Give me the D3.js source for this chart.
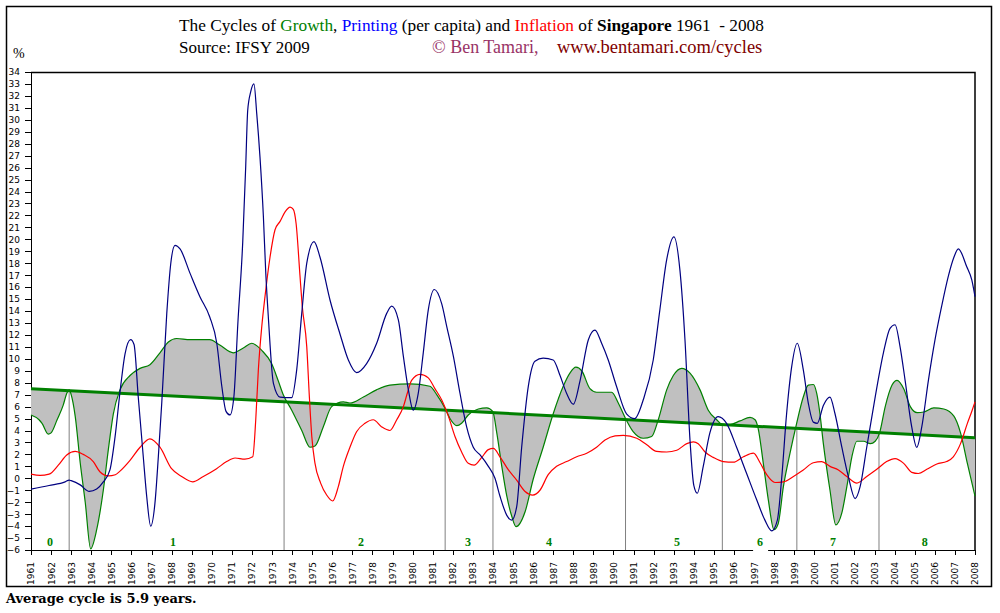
<!DOCTYPE html>
<html>
<head>
<meta charset="utf-8">
<script src="https://cdnjs.cloudflare.com/ajax/libs/d3/7.8.5/d3.min.js"></script>
<style>
    body { margin: 0; background: #fff; }
    svg { display: block; }
    .axis text { font-family: 'DejaVu Sans', sans-serif; font-size: 9px; fill: #000; }
    .axis path, .axis line { stroke: #000; shape-rendering: crispEdges; }
</style>
</head>
<body>
<svg width="1000" height="613"></svg>
<script>
// x axis years and y axis ticks (%)
const years = d3.range( 1961, 2009 );
const yTicks = d3.range( -6, 35 );

// growth (green)
const growthYears = [ 1961.0, 1961.4, 1961.55, 1961.86, 1962.0, 1962.3, 1962.6, 1962.78, 1962.9, 1963.0, 1963.2, 1963.45, 1963.7, 1963.97,
    1964.27, 1964.6, 1964.85, 1965.1, 1965.43, 1965.93, 1966.43, 1966.92, 1967.42, 1967.84, 1968.25, 1968.92, 1969.9, 1970.4,
    1971.07, 1971.57, 1971.99, 1972.49, 1972.98, 1973.3, 1973.56, 1973.98, 1974.48, 1974.89, 1975.14, 1975.55, 1975.97, 1976.55,
    1976.88, 1977.55, 1978.2, 1978.87, 1979.87, 1980.86, 1981.2, 1981.63, 1981.86, 1982.2, 1982.44, 1982.77, 1983.27, 1983.69,
    1983.99, 1984.19, 1984.44, 1984.69, 1984.94, 1985.15, 1985.6, 1986.0, 1986.5, 1987.0, 1987.5, 1987.83, 1988.13, 1988.42,
    1988.83, 1989.16, 1989.91, 1990.24, 1990.6, 1990.98, 1991.48, 1991.9, 1992.23, 1992.65, 1992.98, 1993.4, 1993.81, 1994.31,
    1994.72, 1995.14, 1995.42, 1995.8, 1996.3, 1996.8, 1997.05, 1997.2, 1997.46, 1997.71, 1997.99, 1998.2, 1998.46, 1998.79,
    1999.12, 1999.45, 1999.7, 1999.95, 2000.12, 2000.28, 2000.45, 2000.78, 2001.07, 2001.37, 2001.62, 2001.87, 2002.12, 2002.45,
    2002.79, 2003.03, 2003.25, 2003.53, 2003.87, 2004.12, 2004.45, 2004.78, 2005.12, 2005.45, 2005.95, 2006.45, 2006.95, 2007.28,
    2007.62, 2008.0 ];
const growthValues = [ 5.3, 4.9, 4.6, 3.7, 3.8, 4.9, 6.1, 7.1, 7.4, 7.0, 5.2, 1.3, -2.0, -5.9,
    -4.3, -1.0, 2.4, 5.4, 7.4, 8.6, 9.2, 9.5, 10.5, 11.4, 11.7, 11.6, 11.6, 11.15,
    10.5, 10.9, 11.3, 10.7, 9.6, 8.2, 7.0, 5.7, 4.0, 2.6, 2.7, 4.3, 6.0, 6.4,
    6.3, 6.8, 7.4, 7.8, 7.9, 7.7, 7.0, 5.8, 5.0, 4.4, 4.6, 5.3, 5.8, 5.9,
    5.6, 3.8, 1.0, -1.5, -3.2, -4.05, -2.8, -0.1, 2.6, 5.4, 7.7, 8.8, 9.3, 9.0,
    7.5, 7.2, 7.2, 6.3, 5.0, 3.9, 3.35, 3.5, 4.9, 7.4, 8.6, 9.2, 8.8, 7.4,
    5.7, 4.9, 4.5, 4.5, 4.8, 5.1, 4.9, 4.2, 1.25, -1.8, -4.3, -3.8, -0.7, 2.1,
    4.6, 6.8, 7.8, 7.85, 7.1, 5.4, 2.9, -1.0, -3.9, -2.9, -0.7, 1.8, 3.1, 3.1,
    2.9, 3.1, 3.8, 6.0, 7.8, 8.2, 7.5, 6.0, 5.5, 5.55, 5.9, 5.8, 5.2, 3.8,
    1.25, -1.5 ];

// printing per capita (blue)
const printingYears = [ 1961.0, 1961.9, 1962.7, 1962.9, 1963.0, 1963.45, 1963.9, 1964.27, 1964.6, 1964.93, 1965.18, 1965.43, 1965.68,
    1965.96, 1966.13, 1966.34, 1966.59, 1966.76, 1966.96, 1967.17, 1967.34, 1967.51, 1967.76, 1967.96, 1968.17, 1968.42, 1968.92,
    1969.41, 1969.9, 1970.25, 1970.5, 1970.71, 1970.91, 1971.1, 1971.3, 1971.54, 1971.69, 1971.79, 1971.94, 1972.1, 1972.24,
    1972.4, 1972.57, 1972.69, 1972.82, 1973.07, 1973.4, 1973.98, 1974.23, 1974.48, 1974.73, 1975.09, 1975.39, 1975.89, 1976.38,
    1976.8, 1977.21, 1977.71, 1978.21, 1978.71, 1978.96, 1979.29, 1979.54, 1979.79, 1980.03, 1980.28, 1980.53, 1980.78, 1981.08,
    1981.45, 1981.7, 1982.03, 1982.36, 1982.69, 1983.02, 1983.36, 1983.77, 1984.1, 1984.35, 1984.69, 1984.93, 1985.18, 1985.43,
    1985.76, 1986.09, 1986.5, 1987.0, 1987.34, 1987.67, 1988.0, 1988.34, 1988.75, 1989.08, 1989.41, 1989.74, 1990.15, 1990.65,
    1991.06, 1991.48, 1991.98, 1992.31, 1992.65, 1993.01, 1993.31, 1993.56, 1993.81, 1994.0, 1994.17, 1994.47, 1994.8, 1995.21,
    1995.63, 1996.13, 1996.63, 1997.13, 1997.54, 1997.88, 1998.16, 1998.37, 1998.62, 1998.87, 1999.15, 1999.45, 1999.7, 1999.95,
    2000.15, 2000.45, 2000.78, 2001.03, 2001.37, 2001.7, 2002.03, 2002.28, 2002.61, 2003.03, 2003.44, 2003.77, 2004.02, 2004.27,
    2004.52, 2004.85, 2005.1, 2005.35, 2005.68, 2006.01, 2006.34, 2006.67, 2006.95, 2007.17, 2007.59, 2007.84, 2008.0 ];
const printingValues = [ -0.9, -0.6, -0.3, -0.15, -0.2, -0.55, -1.1, -0.9, -0.3, 0.7, 3.4, 7.2, 10.4,
    11.6, 11.2, 6.8, 1.8, -1.5, -4.0, -2.1, 1.8, 6.3, 13.8, 18.0, 19.5, 19.2, 17.15,
    15.2, 13.5, 11.3, 7.7, 5.6, 5.3, 6.8, 13.0, 19.7, 26.1, 30.8, 32.35, 33.0, 30.5,
    26.9, 21.9, 17.15, 13.4, 7.95, 6.8, 6.75, 9.1, 13.8, 18.0, 19.8, 18.5, 14.9, 12.1,
    9.9, 8.85, 9.6, 11.3, 13.8, 14.4, 13.25, 10.2, 7.4, 5.7, 7.1, 10.5, 14.1, 15.8,
    14.6, 12.7, 10.2, 7.1, 4.3, 2.6, 1.95, 1.0, 0.0, -1.5, -3.1, -3.5, -2.4, 2.6,
    7.7, 9.8, 10.05, 9.9, 8.6, 7.1, 6.2, 8.2, 11.6, 12.4, 11.3, 9.9, 7.7, 5.4,
    5.0, 6.55, 9.9, 14.1, 18.3, 20.2, 17.4, 11.6, 3.2, -0.6, -1.25, 1.0, 3.8, 5.16,
    4.6, 2.6, 0.4, -1.8, -3.5, -4.4, -3.5, -0.1, 5.4, 9.3, 11.3, 9.1, 6.3, 4.7,
    4.6, 6.1, 6.8, 5.4, 2.6, 0.1, -1.7, -0.7, 2.6, 6.8, 10.5, 12.55, 12.85, 11.0,
    8.2, 4.3, 2.6, 4.3, 8.2, 11.6, 14.4, 16.9, 18.5, 19.2, 17.7, 16.6, 15.2 ];

// inflation (red)
const inflationYears = [ 1961.0, 1961.45, 1961.9, 1962.36, 1962.78, 1963.2, 1963.6, 1964.1, 1964.43, 1964.85, 1965.2, 1965.43, 1965.93,
    1966.43, 1966.92, 1967.42, 1968.0, 1968.5, 1969.05, 1969.58, 1970.24, 1970.74, 1971.16, 1971.65, 1972.04, 1972.19, 1972.32,
    1972.49, 1972.65, 1972.9, 1973.15, 1973.4, 1973.65, 1973.9, 1974.06, 1974.2, 1974.39, 1974.5, 1974.73, 1974.86, 1974.98,
    1975.14, 1975.42, 1975.72, 1976.02, 1976.3, 1976.55, 1976.88, 1977.21, 1977.63, 1978.04, 1978.46, 1978.87, 1979.21, 1979.54,
    1979.75, 1979.95, 1980.37, 1980.78, 1981.11, 1981.45, 1981.78, 1982.11, 1982.44, 1982.77, 1983.06, 1983.44, 1983.77, 1984.02,
    1984.35, 1984.77, 1985.18, 1985.6, 1985.98, 1986.34, 1986.75, 1987.17, 1987.67, 1988.17, 1988.67, 1989.16, 1989.58, 1990.08,
    1990.49, 1991.16, 1991.66, 1992.15, 1992.65, 1993.15, 1993.65, 1993.98, 1994.22, 1994.56, 1994.97, 1995.47, 1995.97, 1996.47,
    1996.97, 1997.3, 1997.63, 1998.04, 1998.46, 1998.96, 1999.45, 1999.95, 2000.37, 2000.78, 2001.2, 2001.62, 2002.12, 2002.61,
    2003.11, 2003.6, 2004.02, 2004.45, 2004.85, 2005.18, 2005.6, 2006.1, 2006.59, 2006.92, 2007.28, 2007.62, 2007.86, 2008.0 ];
const inflationValues = [ 0.35, 0.25, 0.35, 1.1, 1.95, 2.25, 2.0, 1.4, 0.55, 0.2, 0.3, 0.6, 1.5,
    2.6, 3.3, 2.6, 0.8, 0.15, -0.3, 0.15, 0.8, 1.4, 1.7, 1.6, 1.8, 4.9, 9.1,
    12.7, 15.2, 18.5, 20.8, 21.5, 22.3, 22.7, 22.5, 21.3, 17.0, 14.5, 11.0, 6.8, 3.5,
    1.25, -0.4, -1.4, -1.9, -0.7, 1.0, 2.6, 3.9, 4.6, 4.9, 4.3, 4.0, 4.9, 6.0,
    7.2, 8.2, 8.7, 8.4, 7.5, 6.55, 5.2, 3.5, 2.2, 1.25, 1.1, 1.75, 2.4, 2.5,
    1.8, 0.7, -0.15, -1.1, -1.4, -1.0, 0.3, 1.0, 1.4, 1.8, 2.1, 2.6, 3.2, 3.55,
    3.6, 3.35, 2.8, 2.25, 2.2, 2.35, 2.9, 3.05, 2.9, 2.2, 1.75, 1.4, 1.35, 1.8,
    2.1, 1.3, 0.3, -0.35, -0.3, 0.15, 0.7, 1.3, 1.4, 1.0, 0.7, 0.15, -0.4, 0.15,
    0.75, 1.4, 1.65, 1.25, 0.5, 0.4, 0.75, 1.2, 1.4, 1.8, 2.9, 4.6, 5.7, 6.4 ];

// growth trend line and cycle borders
const trendYears = [ 1961, 2008 ];
const trendValues = [ 7.5, 3.4 ];
const cycleBreaks = [ 1962.9, 1973.6, 1981.62, 1984.0, 1990.6, 1995.42, 1999.13, 2003.22 ];
const cycleLabels = [ '0', '1', '2', '3', '4', '5', '6', '7', '8' ];
const cycleLabelYears = [ 1961.95, 1968.07, 1977.43, 1982.76, 1986.79, 1993.16, 1997.3, 2000.93, 2005.5 ];
const cycleLabelBoxed = [ false, false, false, false, false, false, true, false, false ];

const averageCycle = 5.9;

function toPoints( xs, vs ) {
    return xs.map( ( year, i ) => ( { year, value: vs[ i ] } ) );
}

function initializePlot( config ) {
    const svg = d3.select( 'svg' );

    // outer frame
    svg.append( 'rect' )
        .attr( 'x', 6.5 ).attr( 'y', 6.5 )
        .attr( 'width', 985 ).attr( 'height', 580 )
        .attr( 'fill', 'none' )
        .attr( 'stroke', '#000' )
        .attr( 'stroke-width', 1.5 );

    const plotGroup = svg.append( 'g' )
        .attr( 'transform', `translate(${config.margin.left},${config.margin.top})` );

    return { svg, plotGroup };
}

function initializeAxes( { plotGroup }, config ) {
    const innerWidth = config.width - config.margin.left - config.margin.right;
    const innerHeight = config.height - config.margin.top - config.margin.bottom;

    const xScale = d3.scaleLinear()
        .domain( [ years[ 0 ], years[ years.length - 1 ] ] )
        .range( [ 0, innerWidth ] );
    const yScale = d3.scaleLinear()
        .domain( [ yTicks[ 0 ], yTicks[ yTicks.length - 1 ] ] )
        .range( [ innerHeight, 0 ] );

    const xAxis = d3.axisBottom( xScale )
        .tickValues( years )
        .tickFormat( d3.format( 'd' ) )
        .tickSize( 5 )
        .tickSizeOuter( 0 );
    const yAxis = d3.axisLeft( yScale )
        .tickValues( yTicks )
        .tickFormat( d3.format( 'd' ) )
        .tickSize( 6 )
        .tickPadding( 5 )
        .tickSizeOuter( 0 );

    const xAxisGroup = plotGroup.append( 'g' )
        .attr( 'class', 'axis x-axis' )
        .attr( 'transform', `translate(0,${innerHeight})` )
        .call( xAxis );
    xAxisGroup.selectAll( 'text' )
        .attr( 'transform', 'rotate(-90)' )
        .attr( 'x', -12 )
        .attr( 'y', 0 )
        .attr( 'dy', '0.33em' )
        .style( 'text-anchor', 'end' );

    plotGroup.append( 'g' )
        .attr( 'class', 'axis y-axis' )
        .call( yAxis );

    // top and right border of the plot
    plotGroup.append( 'path' )
        .attr( 'd', `M0,0.5H${innerWidth}V${innerHeight}` )
        .attr( 'fill', 'none' )
        .attr( 'stroke', '#000' )
        .attr( 'stroke-width', 1.5 );

    return { xScale, yScale, innerWidth, innerHeight };
}

function drawData( { plotGroup }, scales ) {
    const { xScale, yScale, innerHeight } = scales;
    const trend = d3.scaleLinear().domain( trendYears ).range( trendValues );

    const growth = toPoints( growthYears, growthValues );
    const printing = toPoints( printingYears, printingValues );
    const inflation = toPoints( inflationYears, inflationValues );

    const drawGroup = plotGroup.append( 'g' ).attr( 'class', 'draw' );

    // grey band between growth and its trend
    const area = d3.area()
        .x( d => xScale( d.year ) )
        .y0( d => yScale( trend( d.year ) ) )
        .y1( d => yScale( d.value ) )
        .curve( d3.curveMonotoneX );
    drawGroup.append( 'path' )
        .datum( growth )
        .attr( 'd', area )
        .attr( 'fill', '#c0c0c0' );

    // cycle borders
    drawGroup.selectAll( '.cycle' ).data( cycleBreaks )
        .enter().append( 'line' )
        .attr( 'class', 'cycle' )
        .attr( 'x1', d => xScale( d ) )
        .attr( 'x2', d => xScale( d ) )
        .attr( 'y1', d => yScale( trend( d ) ) )
        .attr( 'y2', innerHeight )
        .attr( 'stroke', '#808080' )
        .attr( 'stroke-width', 1 );

    const line = d3.line()
        .x( d => xScale( d.year ) )
        .y( d => yScale( d.value ) )
        .curve( d3.curveMonotoneX );

    drawGroup.append( 'path' )
        .datum( growth )
        .attr( 'd', line )
        .attr( 'fill', 'none' )
        .attr( 'stroke', '#008000' )
        .attr( 'stroke-width', 1.2 );

    drawGroup.append( 'path' )
        .datum( toPoints( trendYears, trendValues ) )
        .attr( 'd', d3.line().x( d => xScale( d.year ) ).y( d => yScale( d.value ) ) )
        .attr( 'fill', 'none' )
        .attr( 'stroke', '#008000' )
        .attr( 'stroke-width', 3 );

    drawGroup.append( 'path' )
        .datum( inflation )
        .attr( 'd', line )
        .attr( 'fill', 'none' )
        .attr( 'stroke', '#ff0000' )
        .attr( 'stroke-width', 1.2 );

    drawGroup.append( 'path' )
        .datum( printing )
        .attr( 'd', line )
        .attr( 'fill', 'none' )
        .attr( 'stroke', '#000080' )
        .attr( 'stroke-width', 1.2 );

    // cycle numbers
    const labels = plotGroup.selectAll( '.cycle-label' ).data( cycleLabels )
        .enter().append( 'g' )
        .attr( 'class', 'cycle-label' )
        .attr( 'transform', ( d, i ) => `translate(${xScale( cycleLabelYears[ i ] )},${innerHeight - 4})` );
    labels.filter( ( d, i ) => cycleLabelBoxed[ i ] )
        .append( 'rect' )
        .attr( 'x', -7 ).attr( 'y', -12 )
        .attr( 'width', 15 ).attr( 'height', 22 )
        .attr( 'fill', '#fff' );
    labels.append( 'text' )
        .attr( 'text-anchor', 'middle' )
        .attr( 'font-family', 'Liberation Serif, serif' )
        .attr( 'font-weight', 'bold' )
        .attr( 'font-size', '12px' )
        .attr( 'fill', '#008000' )
        .text( d => d );
}

function drawTexts( { svg } ) {
    const serif = 'Liberation Serif, Times New Roman, serif';

    const title = svg.append( 'text' )
        .attr( 'x', 179 ).attr( 'y', 31 )
        .attr( 'font-family', serif )
        .attr( 'font-size', '17.3px' );
    [
        [ 'The Cycles of ', '#000', 'normal' ],
        [ 'Growth', '#008000', 'normal' ],
        [ ', ', '#000', 'normal' ],
        [ 'Printing', '#0000ff', 'normal' ],
        [ ' (per capita) and ', '#000', 'normal' ],
        [ 'Inflation', '#ff0000', 'normal' ],
        [ ' of ', '#000', 'normal' ],
        [ 'Singapore', '#000', 'bold' ],
        [ ' 1961  - 2008', '#000', 'normal' ]
    ].forEach( ( [ text, color, weight ] ) => {
        title.append( 'tspan' )
            .attr( 'fill', color )
            .attr( 'font-weight', weight )
            .style( 'white-space', 'pre' )
            .text( text );
    } );

    svg.append( 'text' )
        .attr( 'x', 179 ).attr( 'y', 53 )
        .attr( 'font-family', serif )
        .attr( 'font-size', '17px' )
        .text( 'Source: IFSY 2009' );

    svg.append( 'text' )
        .attr( 'x', 432 ).attr( 'y', 53 )
        .attr( 'font-family', serif )
        .attr( 'font-size', '18px' )
        .attr( 'fill', '#993366' )
        .text( '© Ben Tamari,' );

    svg.append( 'text' )
        .attr( 'x', 557 ).attr( 'y', 53 )
        .attr( 'font-family', serif )
        .attr( 'font-size', '18.5px' )
        .attr( 'fill', '#800000' )
        .text( 'www.bentamari.com/cycles' );

    svg.append( 'text' )
        .attr( 'x', 13 ).attr( 'y', 58 )
        .attr( 'font-family', serif )
        .attr( 'font-size', '14px' )
        .text( '%' );

    svg.append( 'text' )
        .attr( 'x', 6 ).attr( 'y', 603 )
        .attr( 'font-family', 'DejaVu Serif, serif' )
        .attr( 'font-weight', 'bold' )
        .attr( 'font-size', '13px' )
        .text( `Average cycle is ${averageCycle} years.` );
}

function plot() {
    const config = { width: 1000, height: 613, margin: { left: 31, right: 25, top: 72, bottom: 63 } };
    const plotComponents = initializePlot( config );
    const scales = initializeAxes( plotComponents, config );
    drawData( plotComponents, scales );
    drawTexts( plotComponents );
}

plot();
</script>
</body>
</html>
